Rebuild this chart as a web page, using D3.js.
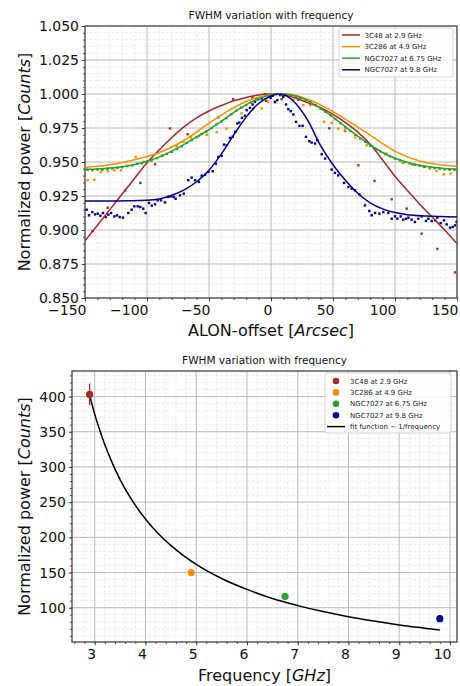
<!DOCTYPE html>
<html>
<head>
<meta charset="utf-8">
<script src="https://cdn.jsdelivr.net/npm/d3@7"></script>
<style>
  body { margin: 0; background: #fff; }
  svg { display: block; font-family: "DejaVu Sans", sans-serif; }
  .grid-major line { stroke: #b0b0b0; stroke-width: 0.8; }
  .grid-minor line { stroke: #dedede; stroke-width: 0.6; stroke-dasharray: 2.5,2; }
</style>
</head>
<body>
<div id="chart"></div>
<script>
// ---------------- data: top panel (beam scans) ----------------
const scanNames = ["3C48 at 2.9 GHz", "3C286 at 4.9 GHz", "NGC7027 at 6.75 GHz", "NGC7027 at 9.8 GHz"];
const scanColors = ["#a52a2a", "#ff8c00", "#2ca02c", "#00008b"];

// fitted curves, [offset arcsec, normalized power]
const fit3C48 = [[-150,0.892],[-140,0.9035],[-130,0.915],[-120,0.9265],[-110,0.938],[-100,0.9495],[-90,0.959],[-80,0.968],[-70,0.976],[-60,0.9825],[-50,0.9875],[-40,0.9915],[-30,0.995],[-20,0.9975],[-10,0.9992],[0,1.0],[10,0.9995],[20,0.997],[30,0.9935],[40,0.99],[50,0.985],[60,0.979],[70,0.972],[80,0.963],[90,0.9515],[100,0.9395],[110,0.929],[120,0.919],[130,0.9095],[140,0.9],[150,0.89]];
const fit3C286 = [[-150,0.946],[-140,0.9468],[-130,0.948],[-120,0.9496],[-110,0.9516],[-100,0.954],[-90,0.957],[-80,0.961],[-70,0.966],[-60,0.972],[-50,0.9785],[-40,0.9845],[-30,0.99],[-20,0.9945],[-10,0.9977],[0,0.9995],[10,1.0],[20,0.999],[30,0.996],[40,0.992],[50,0.987],[60,0.9815],[70,0.9757],[80,0.9697],[90,0.9635],[100,0.958],[110,0.9538],[120,0.9508],[130,0.9488],[140,0.9476],[150,0.9468]];
const fitN675 = [[-150,0.9446],[-140,0.9449],[-130,0.9455],[-120,0.9465],[-110,0.9482],[-100,0.9506],[-90,0.9538],[-80,0.958],[-70,0.963],[-60,0.9685],[-50,0.9737],[-40,0.98],[-30,0.9865],[-20,0.9922],[-10,0.9965],[0,0.9992],[10,1.0],[20,0.9985],[30,0.995],[40,0.9895],[50,0.983],[60,0.9758],[70,0.969],[80,0.9625],[90,0.957],[100,0.9528],[110,0.9497],[120,0.9476],[130,0.9462],[140,0.9453],[150,0.9447]];
const fitN98 = [[-150,0.9213],[-125,0.9213],[-100,0.9218],[-90,0.9228],[-80,0.9255],[-70,0.9295],[-60,0.9355],[-50,0.944],[-40,0.956],[-30,0.97],[-20,0.983],[-10,0.993],[0,0.9985],[5,1.0],[10,0.9995],[20,0.993],[30,0.98],[40,0.962],[50,0.948],[60,0.9365],[70,0.927],[80,0.92],[90,0.9155],[100,0.9128],[110,0.9113],[125,0.9103],[150,0.9095]];

// measured points
const pts3C48 = [[-143.8,0.8992],[-131.7,0.9164],[-117.7,0.929],[-105.3,0.9346],[-93.5,0.9483],[-81.5,0.9746],[-67.2,0.9704],[-42.5,0.9828],[-30.6,0.9962],[-15,0.9975],[-4,0.995],[8.6,0.9962],[22,0.9958],[47,0.9748],[59.7,0.9729],[70.4,0.9476],[83.5,0.9361],[97.3,0.9226],[109.4,0.9157],[121.5,0.8973],[134.1,0.8861],[148.4,0.8688]];
const pts3C286 = [[-147.8,0.9366],[-142.5,0.937],[-137.1,0.9427],[-131.7,0.9432],[-126.3,0.9439],[-121,0.9439],[-109.1,0.9537],[-103,0.9501],[-96.8,0.9508],[-86.8,0.955],[-76.1,0.9616],[-70.7,0.9648],[-64.5,0.968],[-58,0.969],[-51.9,0.97],[-43.8,0.972],[-35.8,0.9745],[-23.7,0.9857],[-14.2,0.9894],[-7.5,0.9894],[-2.2,0.9943],[3.2,0.9935],[10,0.999],[18,0.996],[26.1,0.9918],[31.5,0.9918],[42.7,0.9795],[48.9,0.9788],[54.3,0.9746],[59.7,0.9734],[68,0.968],[77.2,0.9623],[85,0.959],[93.3,0.9562],[106.2,0.9493],[114,0.948],[122.9,0.9464],[128.2,0.9451],[133.6,0.9434],[139.5,0.941],[144.9,0.9415]];
const ptsN675 = [[-148,0.9442],[-144,0.9440],[-140,0.9445],[-136,0.9443],[-132,0.9450],[-128,0.9452],[-124,0.9458],[-120,0.9462],[-116,0.9470],[-112,0.9475],[-108,0.9486],[-104,0.9492],[-100,0.9502],[-96,0.9515],[-92,0.9528],[-88,0.9545],[-84,0.9560],[-80,0.9575],[-76,0.9596],[-72,0.9615],[-68,0.9640],[-64,0.9660],[-60,0.9682],[-56,0.9705],[-52,0.9725],[-48,0.9750],[-44,0.9775],[-40,0.9798],[-36,0.9822],[-32,0.9850],[-28,0.9878],[-24,0.9900],[-20,0.9918],[-16,0.9938],[-12,0.9958],[-8,0.9975],[-4,0.9985],[0,0.9992],[4,0.9998],[8,1.0],[12,0.9998],[16,0.9993],[20,0.9982],[24,0.9972],[28,0.9958],[32,0.9942],[36,0.9918],[40,0.9892],[44,0.9868],[48,0.9842],[52,0.9815],[56,0.9785],[60,0.9755],[64,0.9728],[68,0.9700],[72,0.9672],[76,0.9648],[80,0.9620],[84,0.9598],[88,0.9578],[92,0.9558],[96,0.9542],[100,0.9525],[104,0.9512],[108,0.9500],[112,0.9490],[116,0.9480],[120,0.9472],[124,0.9465],[128,0.9460],[132,0.9455],[136,0.9450],[140,0.9446],[144,0.9443],[148,0.9442]];
const ptsN98 = [[-148.7,0.9149],[-146.8,0.9108],[-144.1,0.9132],[-141.9,0.9115],[-139.8,0.912],[-137.6,0.9105],[-135.5,0.9125],[-133.3,0.9095],[-131.2,0.9113],[-129,0.9125],[-126.3,0.91],[-124.2,0.9108],[-122,0.9095],[-119.4,0.9091],[-115.1,0.9125],[-112.4,0.9149],[-110.2,0.9174],[-107.5,0.9174],[-105.4,0.9169],[-103,0.9157],[-101.1,0.9125],[-98.4,0.9199],[-96.2,0.9179],[-93.5,0.9189],[-91.4,0.9218],[-88.7,0.9218],[-85.5,0.9203],[-82.8,0.9243],[-80.6,0.9248],[-78.5,0.9243],[-76.9,0.923],[-73.4,0.9255],[-70.4,0.9267],[-66.7,0.9366],[-64,0.9385],[-61.3,0.9366],[-58.1,0.9353],[-55.9,0.94],[-53.2,0.9405],[-50.5,0.9427],[-47,0.9432],[-44.4,0.9488],[-42.5,0.9537],[-39.8,0.9545],[-37.9,0.9628],[-35.8,0.9623],[-33.1,0.9677],[-30.9,0.9685],[-28.8,0.9722],[-27.2,0.9783],[-25.5,0.979],[-23.4,0.9825],[-21,0.984],[-19.6,0.9881],[-17,0.9898],[-14.8,0.9923],[-12.9,0.9943],[-10.2,0.9962],[-7.5,0.9967],[-4.8,0.9997],[-2.1,0.9992],[-0.3,0.9972],[1.3,0.9987],[3.2,0.9943],[5.1,0.9955],[7.3,0.9992],[9.9,0.9979],[12.1,0.9923],[14,0.9888],[15.9,0.9874],[18,0.9849],[20.2,0.9795],[22.9,0.9766],[25.5,0.9766],[28.2,0.9685],[30.9,0.9653],[32.8,0.9643],[35.5,0.9636],[37.4,0.966],[40.9,0.9557],[43.6,0.9525],[48.9,0.9444],[51.6,0.942],[54.3,0.9402],[58.9,0.9346],[62.4,0.9316],[65.1,0.9304],[67.7,0.9292],[71.2,0.9262],[75.8,0.9181],[79.3,0.914],[81.2,0.9108],[83.9,0.9125],[87.4,0.912],[90.6,0.9132],[94.6,0.9125],[97.3,0.9083],[100,0.91],[101.9,0.9083],[104.6,0.91],[106.7,0.9076],[108.9,0.9083],[110.8,0.9091],[113.4,0.9076],[116.1,0.9059],[118.8,0.9083],[121.5,0.91],[125,0.9066],[126.9,0.9083],[129.6,0.9066],[132.3,0.9071],[134.1,0.9091],[136.8,0.9051],[139.5,0.9071],[141.7,0.9041],[144.4,0.9017],[146.5,0.9022],[148.4,0.9034],[149.7,0.9059]];

const scanFits = [fit3C48, fit3C286, fitN675, fitN98];
const scanPoints = [pts3C48, pts3C286, ptsN675, ptsN98];
const topXTicks = [-150, -100, -50, 0, 50, 100, 150];
const topYTicks = [0.850, 0.875, 0.900, 0.925, 0.950, 0.975, 1.000, 1.025, 1.050];

// ---------------- data: bottom panel (power vs frequency) ----------------
const freqNames = ["3C48 at 2.9 GHz", "3C286 at 4.9 GHz", "NGC7027 at 6.75 GHz", "NGC7027 at 9.8 GHz"];
const freqGHz = [2.9, 4.9, 6.75, 9.8];
const freqPower = [403, 150, 116, 84.5];
const freqErr = [15.5, 0, 0, 0];
const fitFreq = [2.9, 3.0, 3.1, 3.2, 3.35, 3.5, 3.75, 4.0, 4.25, 4.5, 4.75, 5.0, 5.5, 6.0, 6.5, 7.0, 7.5, 8.0, 8.5, 9.0, 9.5, 9.8];
const fitPower = [402, 375, 352, 331.5, 305, 282, 251, 226, 205.5, 188.5, 174, 161.5, 141.5, 126, 113, 103, 94.5, 87.2, 81, 75.6, 71, 68.3];
const botXTicks = [3, 4, 5, 6, 7, 8, 9, 10];
const botYTicks = [100, 150, 200, 250, 300, 350, 400];

const W = 460, H = 686;
const svg = d3.select("#chart").append("svg").attr("width", W).attr("height", H);

// draws grid, frame, ticks and labels for one panel
function drawFrame(g, x, y, opt) {
    const [x0, x1] = x.range(), [y0, y1] = y.range(); // y0 is bottom
    const minorX = d3.range(opt.xMinor[0], opt.xMinor[1] + 1e-9, opt.xMinor[2]).filter(v => v >= x.domain()[0] && v <= x.domain()[1]);
    const minorY = d3.range(opt.yMinor[0], opt.yMinor[1] + 1e-9, opt.yMinor[2]).filter(v => v >= y.domain()[0] && v <= y.domain()[1]);

    const gm = g.append("g").attr("class", "grid-minor");
    gm.selectAll(".vx").data(minorX).enter().append("line")
        .attr("x1", d => x(d)).attr("x2", d => x(d)).attr("y1", y0).attr("y2", y1);
    gm.selectAll(".hy").data(minorY).enter().append("line")
        .attr("y1", d => y(d)).attr("y2", d => y(d)).attr("x1", x0).attr("x2", x1);

    const gM = g.append("g").attr("class", "grid-major");
    gM.selectAll(".vx").data(opt.xTicks.filter(v => x(v) > x0 + 0.5 && x(v) < x1 - 0.5)).enter().append("line")
        .attr("x1", d => x(d)).attr("x2", d => x(d)).attr("y1", y0).attr("y2", y1);
    gM.selectAll(".hy").data(opt.yTicks.filter(v => y(v) < y0 - 0.5 && y(v) > y1 + 0.5)).enter().append("line")
        .attr("y1", d => y(d)).attr("y2", d => y(d)).attr("x1", x0).attr("x2", x1);

    // axes
    const xAxis = d3.axisBottom(x).tickValues(opt.xTicks).tickFormat(opt.xFmt).tickSize(3.5).tickPadding(3.5);
    const yAxis = d3.axisLeft(y).tickValues(opt.yTicks).tickFormat(opt.yFmt).tickSize(3.5).tickPadding(2.5);
    const ax = g.append("g").attr("transform", "translate(0," + y0 + ")").call(xAxis);
    const ay = g.append("g").attr("transform", "translate(" + x0 + ",0)").call(yAxis);
    g.append("g").attr("transform", "translate(0," + y0 + ")")
        .call(d3.axisBottom(x).tickValues(minorX).tickFormat("").tickSize(2))
        .select(".domain").remove();
    g.append("g").attr("transform", "translate(" + x0 + ",0)")
        .call(d3.axisLeft(y).tickValues(minorY).tickFormat("").tickSize(2))
        .select(".domain").remove();
    [ax, ay].forEach(a => {
        a.select(".domain").remove();
        a.selectAll("text").attr("fill", "#111").style("font-size", "14px").style("font-family", "DejaVu Sans");
    });
    // x labels sit to the left of their tick, ending on it
    ax.selectAll("text").attr("text-anchor", "end").attr("dx", "1px");
    g.selectAll(".tick line").attr("stroke", "#333").attr("stroke-width", 0.8);

    g.append("rect").attr("x", x0).attr("y", y1).attr("width", x1 - x0).attr("height", y0 - y1)
        .attr("fill", "none").attr("stroke", "#333").attr("stroke-width", 1.2);

    g.append("text").attr("x", (x0 + x1) / 2).attr("y", opt.titleY).attr("text-anchor", "middle")
        .style("font-size", "10.5px").attr("fill", "#111").text("FWHM variation with frequency");

    const xl = g.append("text").attr("x", (x0 + x1) / 2).attr("y", opt.xLabelY).attr("text-anchor", "middle")
        .style("font-size", "16px").attr("fill", "#111");
    xl.append("tspan").text(opt.xLabel[0]);
    xl.append("tspan").style("font-style", "italic").text(opt.xLabel[1]);
    xl.append("tspan").text("]");

    const yl = g.append("text").attr("transform", "translate(" + opt.yLabelX + "," + (y0 + y1) / 2 + ") rotate(-90)")
        .attr("text-anchor", "middle").style("font-size", "16px").attr("fill", "#111");
    yl.append("tspan").text("Normalized power [");
    yl.append("tspan").style("font-style", "italic").text("Counts");
    yl.append("tspan").text("]");
}

const minusFmt = d => (d < 0 ? "\u2212" + Math.abs(d) : String(d));

// ================= top panel =================
const xTop = d3.scaleLinear().domain([-150, 150]).range([85, 457]);
const yTop = d3.scaleLinear().domain([0.85, 1.05]).range([298, 26]);
const gTop = svg.append("g");

drawFrame(gTop, xTop, yTop, {
    xTicks: topXTicks, yTicks: topYTicks,
    xMinor: [-150, 150, 10], yMinor: [0.85, 1.05, 0.005],
    xFmt: minusFmt, yFmt: d3.format(".3f"),
    titleY: 19, xLabelY: 336, yLabelX: 30,
    xLabel: ["ALON-offset [", "Arcsec"]
});

svg.append("clipPath").attr("id", "clipTop").append("rect")
    .attr("x", 85).attr("y", 26).attr("width", 372).attr("height", 272);

const plotTop = gTop.append("g").attr("clip-path", "url(#clipTop)");
const lineTop = d3.line().x(d => xTop(d[0])).y(d => yTop(d[1])).curve(d3.curveMonotoneX);

scanPoints.forEach((pts, i) => {
    plotTop.append("g").selectAll("rect").data(pts).enter().append("rect")
        .attr("x", d => xTop(d[0]) - 1.2).attr("y", d => yTop(d[1]) - 1.2)
        .attr("width", 2.4).attr("height", 2.4).attr("fill", scanColors[i]);
});
scanFits.forEach((fit, i) => {
    plotTop.append("path").datum(fit).attr("d", lineTop)
        .attr("fill", "none").attr("stroke", scanColors[i]).attr("stroke-width", 1.5);
});

// legend top
const legTop = gTop.append("g").attr("transform", "translate(339,28)");
legTop.append("rect").attr("width", 114).attr("height", 49).attr("rx", 2)
    .attr("fill", "#fff").attr("fill-opacity", 0.85).attr("stroke", "#ccc").attr("stroke-width", 0.8);
scanNames.forEach((name, i) => {
    const row = legTop.append("g").attr("transform", "translate(0," + (7 + i * 11.6) + ")");
    row.append("line").attr("x1", 3).attr("x2", 21).attr("y1", 0).attr("y2", 0)
        .attr("stroke", scanColors[i]).attr("stroke-width", 1.5);
    row.append("text").attr("x", 25.5).attr("y", 2.5).style("font-size", "7px").attr("fill", "#222").text(name);
});

// ================= bottom panel =================
const xBot = d3.scaleLinear().domain([2.553, 10.138]).range([72, 457]);
const yBot = d3.scaleLinear().domain([51.3, 436.3]).range([642, 371]);
const gBot = svg.append("g");

drawFrame(gBot, xBot, yBot, {
    xTicks: botXTicks, yTicks: botYTicks,
    xMinor: [2.6, 10.2, 0.2], yMinor: [60, 430, 10],
    xFmt: d3.format("d"), yFmt: d3.format("d"),
    titleY: 364, xLabelY: 681, yLabelX: 30,
    xLabel: ["Frequency [", "GHz"]
});

const fitData = fitFreq.map((f, i) => [f, fitPower[i]]);
gBot.append("path").datum(fitData)
    .attr("d", d3.line().x(d => xBot(d[0])).y(d => yBot(d[1])).curve(d3.curveMonotoneX))
    .attr("fill", "none").attr("stroke", "#000").attr("stroke-width", 1.5);

freqGHz.forEach((f, i) => {
    if (freqErr[i] > 0) {
        gBot.append("line").attr("x1", xBot(f)).attr("x2", xBot(f))
            .attr("y1", yBot(freqPower[i] - freqErr[i])).attr("y2", yBot(freqPower[i] + freqErr[i]))
            .attr("stroke", scanColors[i]).attr("stroke-width", 1.3);
    }
    gBot.append("circle").attr("cx", xBot(f)).attr("cy", yBot(freqPower[i])).attr("r", 3.6)
        .attr("fill", scanColors[i]);
});

// legend bottom
const legBot = gBot.append("g").attr("transform", "translate(325,373)");
legBot.append("rect").attr("width", 126).attr("height", 60).attr("rx", 2)
    .attr("fill", "#fff").attr("fill-opacity", 0.85).attr("stroke", "#ccc").attr("stroke-width", 0.8);
freqNames.concat(["fit function ~ 1/frequency"]).forEach((name, i) => {
    const row = legBot.append("g").attr("transform", "translate(0," + (8 + i * 11.4) + ")");
    if (i < 4) {
        row.append("circle").attr("cx", 11).attr("cy", 0).attr("r", 3.3).attr("fill", scanColors[i]);
    } else {
        row.append("line").attr("x1", 2).attr("x2", 20).attr("y1", 0).attr("y2", 0)
            .attr("stroke", "#000").attr("stroke-width", 1.5);
    }
    row.append("text").attr("x", 25).attr("y", 2.5).style("font-size", "7px").attr("fill", "#222").text(name);
});
</script>
</body>
</html>
